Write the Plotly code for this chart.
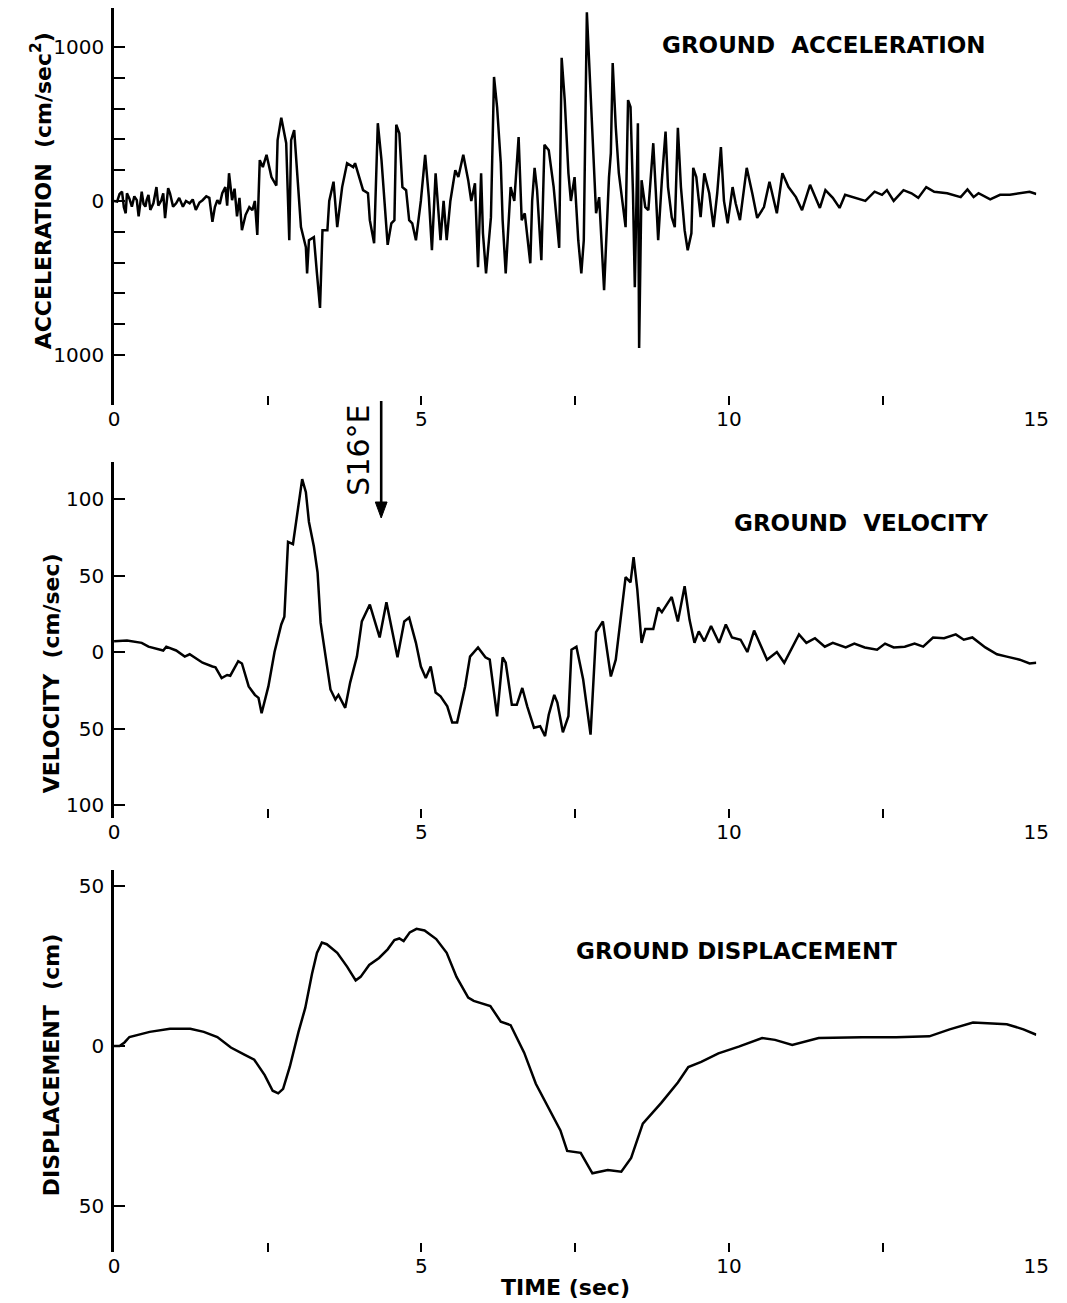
import plotly.graph_objects as go

# ---------------- data ----------------
acc_time = [0.00, 0.05, 0.09, 0.13, 0.16, 0.19, 0.21, 0.25, 0.29, 0.33, 0.37, 0.40, 0.45, 0.48, 0.51,
            0.53, 0.56, 0.59, 0.64, 0.69, 0.72, 0.77, 0.80, 0.83, 0.88, 0.91, 0.96, 1.01, 1.06, 1.12,
            1.17, 1.23, 1.28, 1.33, 1.39, 1.44, 1.50, 1.55, 1.60, 1.64, 1.68, 1.72, 1.76, 1.81, 1.84,
            1.87, 1.92, 1.96, 2.00, 2.04, 2.08, 2.14, 2.20, 2.25, 2.29, 2.33, 2.37, 2.42, 2.48, 2.56,
            2.64, 2.66, 2.72, 2.80, 2.85, 2.88, 2.93, 2.96, 3.04, 3.12, 3.14, 3.17, 3.25, 3.30, 3.35,
            3.39, 3.47, 3.50, 3.57, 3.63, 3.71, 3.79, 3.89, 3.92, 4.05, 4.13, 4.16, 4.23, 4.29, 4.35,
            4.45, 4.51, 4.56, 4.59, 4.64, 4.69, 4.75, 4.80, 4.85, 4.91, 4.99, 5.06, 5.12, 5.17, 5.23,
            5.31, 5.36, 5.41, 5.47, 5.55, 5.60, 5.68, 5.76, 5.81, 5.87, 5.92, 5.97, 6.00, 6.05, 6.13,
            6.18, 6.23, 6.29, 6.32, 6.37, 6.45, 6.51, 6.58, 6.63, 6.68, 6.72, 6.77, 6.80, 6.84, 6.88,
            6.95, 7.00, 7.07, 7.15, 7.24, 7.28, 7.33, 7.39, 7.43, 7.49, 7.55, 7.60, 7.64, 7.69, 7.75,
            7.80, 7.84, 7.89, 7.97, 8.05, 8.08, 8.11, 8.16, 8.21, 8.27, 8.32, 8.36, 8.40, 8.44, 8.47,
            8.52, 8.54, 8.58, 8.64, 8.69, 8.77, 8.81, 8.85, 8.91, 8.97, 9.01, 9.07, 9.12, 9.17, 9.22,
            9.28, 9.33, 9.39, 9.42, 9.47, 9.54, 9.60, 9.68, 9.75, 9.81, 9.87, 9.92, 9.98, 10.06, 10.11,
            10.18, 10.29, 10.38, 10.46, 10.57, 10.66, 10.78, 10.87, 10.97, 11.09, 11.19, 11.32, 11.48,
            11.57, 11.69, 11.80, 11.89, 12.00, 12.22, 12.37, 12.49, 12.57, 12.68, 12.84, 12.97, 13.08,
            13.21, 13.34, 13.55, 13.77, 13.88, 13.98, 14.06, 14.25, 14.41, 14.57, 14.73, 14.89, 15.00]
acc_values = [0, -4, 45, 60, -40, -80, 50, 15, -37, 30, 5, -100, 60, -20, -37,
              5, 40, -58, -15, 90, -30, 5, 50, -112, 83, 50, -37, -15, 20, -37,
              0, -15, 10, -58, -10, 5, 30, 20, -135, -40, 5, -20, 50, 90, -30,
              180, 5, 80, -100, 20, -190, -90, -40, -60, 0, -220, 265, 220, 300, 155,
              100, 395, 540, 375, -255, 395, 460, 285, -170, -300, -470, -255, -235, -470, -695,
              -190, -190, 0, 125, -170, 90, 245, 220, 245, 70, 50, -125, -275, 505, 265,
              -285, -145, -125, 495, 440, 90, 70, -125, -145, -255, 0, 300, 25, -320, 180,
              -255, 0, -255, 0, 200, 155, 300, 135, 0, 115, -430, 180, -210, -470, -105,
              805, 610, 245, -125, -470, 90, 0, 415, -125, -80, -210, -405, 0, 215, 70,
              -385, 365, 330, 90, -305, 930, 655, 180, 0, 155, -255, -470, -255, 1225, 700,
              285, -80, 25, -580, 155, 310, 895, 480, 180, 0, -170, 655, 610, 50, -560,
              505, -955, 135, -40, -60, 375, 70, -255, 135, 450, 90, -105, -170, 475, 90,
              -190, -320, -210, 215, 155, -105, 180, 50, -170, 50, 350, 0, -145, 90, -15,
              -125, 215, 50, -110, -40, 125, -80, 180, 90, 25, -60, 105, -45,
              70, 20, -45, 40, 25, 0, 60, 40, 70, 0, 70, 50, 20,
              90, 60, 50, 25, 75, 25, 50, 10, 40, 40, 50, 60, 45]

vel_time = [0.00, 0.21, 0.45, 0.56, 0.80, 0.85, 1.01, 1.15, 1.23, 1.44, 1.60, 1.65, 1.75, 1.84, 1.89,
            2.02, 2.08, 2.19, 2.29, 2.35, 2.40, 2.51, 2.61, 2.72, 2.77, 2.83, 2.91, 2.99, 3.06, 3.12,
            3.17, 3.25, 3.31, 3.36, 3.44, 3.52, 3.60, 3.65, 3.76, 3.84, 3.95, 4.03, 4.16, 4.32, 4.43,
            4.51, 4.61, 4.72, 4.80, 4.91, 4.99, 5.07, 5.15, 5.23, 5.31, 5.42, 5.50, 5.58, 5.71, 5.79,
            5.92, 6.04, 6.11, 6.23, 6.32, 6.37, 6.47, 6.55, 6.64, 6.72, 6.83, 6.93, 7.01, 7.07, 7.16,
            7.21, 7.30, 7.39, 7.44, 7.52, 7.63, 7.75, 7.84, 7.95, 8.08, 8.16, 8.27, 8.32, 8.40, 8.45,
            8.51, 8.58, 8.64, 8.77, 8.85, 8.91, 9.07, 9.17, 9.28, 9.36, 9.44, 9.51, 9.60, 9.71, 9.84,
            9.95, 10.05, 10.19, 10.30, 10.41, 10.62, 10.78, 10.90, 11.14, 11.26, 11.40, 11.56, 11.69,
            11.90, 12.04, 12.21, 12.41, 12.54, 12.68, 12.86, 13.02, 13.16, 13.32, 13.50, 13.69, 13.82,
            13.96, 14.17, 14.36, 14.52, 14.73, 14.89, 15.00]
vel_values = [7, 7.5, 6, 3.5, 1, 3.5, 1, -3, -1.5, -7, -9.5, -10, -17, -15, -15.5,
              -6, -7.5, -22.5, -28, -30, -40, -22.5, 0, 18, 23, 72, 70.5, 93, 113, 104.5,
              85, 69, 52, 19, -3, -24.5, -31, -28, -36.5, -20, -3, 20, 31, 9.5, 32.5,
              17, -3.5, 20, 22.5, 6, -9.5, -17, -9.5, -26.5, -29, -35.5, -46, -46, -22.5, -3,
              3, -3.5, -5, -42, -3.5, -7, -34.5, -34.5, -23.5, -35.5, -49.5, -48.5, -55, -41, -28,
              -33, -52.5, -42, 1.5, 3.5, -18, -54, 13, 20, -16, -5, 34.5, 49, 45.5, 62,
              41, 6, 15, 15, 29, 26, 36, 20, 43, 21, 6, 13.5, 7, 17, 6,
              18, 9.5, 8, 0, 14, -5, 0, -7, 11.5, 6, 9, 3.5, 6,
              3, 5.5, 3, 1.5, 5.5, 3, 3.5, 5.5, 3.5, 9.5, 9, 11.5, 8,
              9.5, 3, -1.5, -3, -5, -7.5, -7]

disp_time = [0.00, 0.09, 0.17, 0.25, 0.58, 0.91, 1.24, 1.46, 1.68, 1.90, 2.12, 2.28, 2.45, 2.58, 2.67,
             2.75, 2.86, 3.00, 3.11, 3.22, 3.30, 3.38, 3.46, 3.63, 3.79, 3.93, 4.01, 4.15, 4.31, 4.45,
             4.56, 4.64, 4.71, 4.81, 4.92, 5.05, 5.24, 5.41, 5.57, 5.76, 5.85, 6.12, 6.29, 6.45, 6.67,
             6.86, 7.26, 7.37, 7.59, 7.78, 8.03, 8.25, 8.41, 8.60, 8.90, 9.17, 9.34, 9.55, 9.83, 10.16,
             10.54, 10.75, 11.03, 11.46, 12.17, 12.72, 13.26, 13.59, 13.97, 14.52, 14.79, 15.00]
disp_values = [0, 0, 1.1, 2.8, 4.4, 5.4, 5.4, 4.4, 2.8, -0.5, -2.7, -4.3, -9.1, -14.0, -14.8,
               -13.4, -6.4, 4.4, 11.9, 22.6, 29.1, 32.3, 31.8, 29.1, 24.8, 20.5, 21.6, 25.3, 27.5, 30.2,
               33.1, 33.6, 32.8, 35.5, 36.6, 36.1, 33.4, 29.1, 21.6, 15.1, 14.1, 12.5, 7.6, 6.5, -2.1,
               -11.8, -26.4, -32.8, -33.4, -39.8, -38.8, -39.3, -35.0, -24.3, -17.8, -11.4, -6.6, -5.0, -2.3, -0.2,
               2.5, 1.9, 0.3, 2.5, 2.7, 2.7, 3.0, 5.2, 7.3, 6.8, 5.2, 3.5]

time_ticks = [0, 5, 10, 15]
time_labels = ["0", "5", "10", "15"]
time_minor_ticks = [2.5, 7.5, 12.5]
acc_ticks = [-1000, 0, 1000]
acc_labels = ["1000", "0", "1000"]
acc_minor_ticks = [-800, -600, -400, -200, 200, 400, 600, 800]
vel_ticks = [-100, -50, 0, 50, 100]
vel_labels = ["100", "50", "0", "50", "100"]
disp_ticks = [-50, 0, 50]
disp_labels = ["50", "0", "50"]

# ---------------- layout helpers ----------------
W, H = 1067, 1303


def fx(p):
    return p / W


def fy(p):
    return 1 - p / H


FONT = "DejaVu Sans"
x_dom = [fx(110), fx(1049)]

line_style = dict(color="black", width=2.5)

fig = go.Figure()
fig.add_trace(go.Scatter(x=acc_time, y=acc_values, mode="lines", line=line_style,
                         xaxis="x", yaxis="y", showlegend=False, hoverinfo="skip"))
fig.add_trace(go.Scatter(x=vel_time, y=vel_values, mode="lines", line=line_style,
                         xaxis="x2", yaxis="y2", showlegend=False, hoverinfo="skip"))
fig.add_trace(go.Scatter(x=disp_time, y=disp_values, mode="lines", line=line_style,
                         xaxis="x3", yaxis="y3", showlegend=False, hoverinfo="skip"))


def xaxis_cfg(anchor):
    return dict(domain=x_dom, anchor=anchor, range=[0, 15], showline=False, showgrid=False,
                zeroline=False, ticks="inside", ticklen=9, tickwidth=2.4, tickcolor="black",
                tickmode="array", tickvals=time_ticks, ticktext=time_labels,
                minor=dict(tickmode="array", tickvals=time_minor_ticks, ticks="inside",
                           ticklen=9, tickwidth=2.4, tickcolor="black", showgrid=False),
                tickfont=dict(family=FONT, size=20, color="black"))


def yaxis_cfg(anchor, dom, rng, tv, tt, minor_tv=None):
    cfg = dict(domain=dom, anchor=anchor, range=rng, showline=True, linecolor="black",
               linewidth=2.6, showgrid=False, zeroline=False, ticks="inside", ticklen=11,
               tickwidth=2.2, tickcolor="black", tickmode="array", tickvals=tv, ticktext=tt,
               ticklabelstandoff=3,
               tickfont=dict(family=FONT, size=20, color="black"))
    if minor_tv:
        cfg["minor"] = dict(tickmode="array", tickvals=minor_tv, ticks="inside", ticklen=11,
                            tickwidth=2.2, tickcolor="black", showgrid=False)
    return cfg


fig.update_layout(
    width=W, height=H, margin=dict(l=0, r=0, t=0, b=0),
    paper_bgcolor="white", plot_bgcolor="white", showlegend=False,
    xaxis=xaxis_cfg("y"),
    xaxis2=xaxis_cfg("y2"),
    xaxis3=xaxis_cfg("y3"),
    yaxis=yaxis_cfg("x", [fy(405), fy(8)], [-1325, 1253], acc_ticks, acc_labels, acc_minor_ticks),
    yaxis2=yaxis_cfg("x2", [fy(818), fy(462)], [-108.5, 124.2], vel_ticks, vel_labels),
    yaxis3=yaxis_cfg("x3", [fy(1252), fy(870)], [-64.4, 55], disp_ticks, disp_labels),
)

title_font = dict(family=FONT, size=23, color="black", weight="bold")
axis_font = dict(family=FONT, size=22, color="black", weight="bold")

annos = [
    dict(text="GROUND\u00a0 ACCELERATION", x=fx(833), y=fy(45), font=title_font),
    dict(text="GROUND\u00a0 VELOCITY", x=fx(870), y=fy(523), font=title_font),
    dict(text="GROUND DISPLACEMENT", x=fx(744), y=fy(951), font=title_font),
    dict(text="TIME (sec)", x=fx(570), y=fy(1287), font=axis_font),
    dict(text="ACCELERATION\u00a0 (cm/sec<sup>2</sup>)", x=fx(36), y=fy(191), textangle=-90, font=axis_font),
    dict(text="VELOCITY\u00a0 (cm/sec)", x=fx(46), y=fy(673), textangle=-90, font=axis_font),
    dict(text="DISPLACEMENT\u00a0 (cm)", x=fx(46), y=fy(1065), textangle=-90, font=axis_font),
    dict(text="S16°E", x=fx(358), y=fy(450), textangle=-90,
         font=dict(family=FONT, size=30, color="black")),
]
for a in annos:
    a.update(xref="paper", yref="paper", xanchor="center", yanchor="middle", showarrow=False)
    fig.add_annotation(**a)

# direction arrow next to the S16°E label (shaft + filled head)
fig.add_shape(type="line", xref="paper", yref="paper",
              x0=fx(382), x1=fx(382), y0=fy(401), y1=fy(506),
              line=dict(color="black", width=2.6))
fig.add_shape(type="path", xref="paper", yref="paper",
              path=f"M {fx(376)} {fy(502)} L {fx(388)} {fy(502)} L {fx(382)} {fy(518)} Z",
              fillcolor="black", line=dict(color="black", width=1))

fig.write_html("out.html")
